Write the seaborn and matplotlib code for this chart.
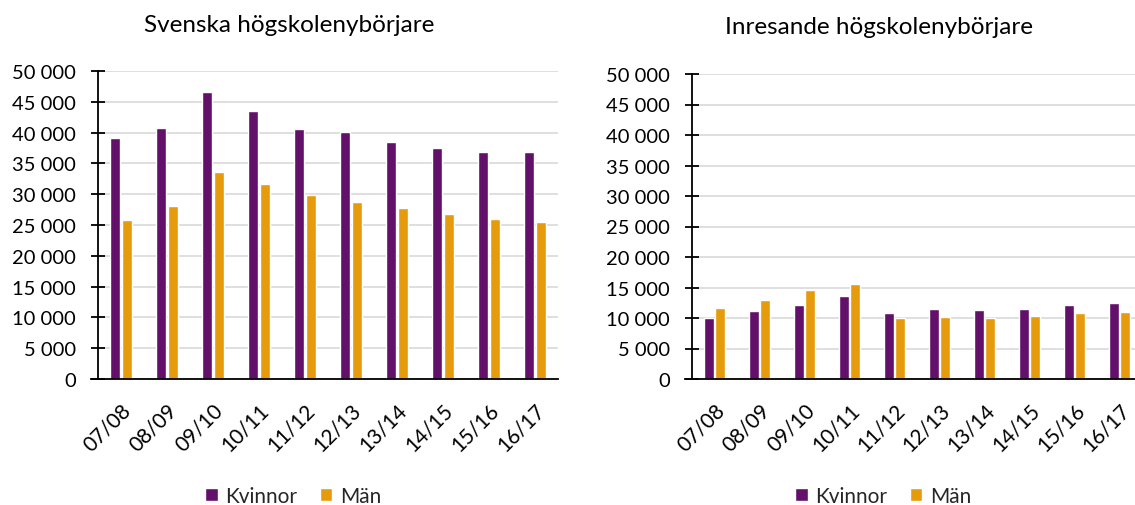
import matplotlib
matplotlib.use("Agg")
import matplotlib.pyplot as plt
from matplotlib.patches import Patch
from matplotlib.ticker import FuncFormatter, MultipleLocator
import seaborn as sns
import pandas as pd

# data
years = ["07/08", "08/09", "09/10", "10/11", "11/12", "12/13", "13/14", "14/15", "15/16", "16/17"]
svenska_kvinnor = [39100, 40700, 46650, 43500, 40650, 40100, 38550, 37450, 36900, 36900]
svenska_man = [25750, 28150, 33600, 31600, 29850, 28700, 27750, 26750, 25950, 25450]
inres_kvinnor = [10000, 11200, 12100, 13550, 10800, 11400, 11300, 11400, 12150, 12400]
inres_man = [11650, 12950, 14600, 15550, 9950, 10150, 10050, 10400, 10900, 11050]
labels = ["Kvinnor", "Män"]
titles = ["Svenska högskolenybörjare", "Inresande högskolenybörjare"]

PURPLE = "#63106B"
ORANGE = "#E59B0C"
GRID = "#D9D9D9"


def long_df(kvinnor, man):
    return pd.DataFrame({
        "year": years * 2,
        "kon": [labels[0]] * len(years) + [labels[1]] * len(years),
        "antal": kvinnor + man,
    })


def thousands(v, pos):
    return f"{int(v):,}".replace(",", " ")


sns.set_theme(style="white")
plt.rcParams["font.family"] = ["Lato", "DejaVu Sans"]

fig = plt.figure(figsize=(11.35, 5.06), dpi=100)
ax1 = fig.add_axes([98 / 1135, 1 - 380 / 506, 460 / 1135, 308 / 506])
ax2 = fig.add_axes([692 / 1135, 1 - 380 / 506, 443 / 1135, 305 / 506])

frames = [long_df(svenska_kvinnor, svenska_man), long_df(inres_kvinnor, inres_man)]
xlims = [(-0.5, 9.5), (-0.5, 9.34)]
cat_px = [46, 45]

for ax, df, xl, cp in zip([ax1, ax2], frames, xlims, cat_px):
    sns.barplot(data=df, x="year", y="antal", hue="kon", hue_order=labels,
                palette=[PURPLE, ORANGE], saturation=1, errorbar=None,
                width=0.51, gap=0.13, legend=False, ax=ax)
    ax.set_ylim(0, 50000)
    ax.set_xlim(*xl)
    ax.yaxis.set_major_locator(MultipleLocator(5000))
    ax.yaxis.set_major_formatter(FuncFormatter(thousands))
    ax.grid(axis="y", color=GRID, linewidth=1.2)
    ax.set_axisbelow(True)
    for s in ["top", "right"]:
        ax.spines[s].set_visible(False)
    for s in ["left", "bottom"]:
        ax.spines[s].set_color("black")
        ax.spines[s].set_linewidth(1.3)
    # x axis line sticks out a little to the left of the y axis
    ax.spines["bottom"].set_bounds(xl[0] - 7 / cp, xl[1])
    ax.tick_params(axis="y", direction="inout", length=10, width=1.3,
                   color="black", labelsize=14.5, pad=11, left=True)
    ax.tick_params(axis="x", length=0, labelsize=15, pad=15)
    ax.set_xlabel("")
    ax.set_ylabel("")
    for t in ax.get_xticklabels():
        t.set_rotation(45)
        t.set_ha("right")
        t.set_rotation_mode("anchor")
    for t in ax.get_xticklabels() + ax.get_yticklabels():
        t.set_color("black")

fig.text(289 / 1135, 1 - 26 / 506, titles[0], ha="center", va="center", fontsize=17.5, color="black")
fig.text(879 / 1135, 1 - 28 / 506, titles[1], ha="center", va="center", fontsize=17.5, color="black")

handles = [Patch(facecolor=PURPLE, label=labels[0]), Patch(facecolor=ORANGE, label=labels[1])]
for cx in [293 / 1135, 883 / 1135]:
    fig.legend(handles=handles, loc="center", bbox_to_anchor=(cx, 1 - 497 / 506),
               ncol=2, frameon=False, fontsize=15, handlelength=0.6, handleheight=0.6,
               handletextpad=0.35, columnspacing=1.1, borderaxespad=0)

fig.savefig("out.png", dpi=100)
